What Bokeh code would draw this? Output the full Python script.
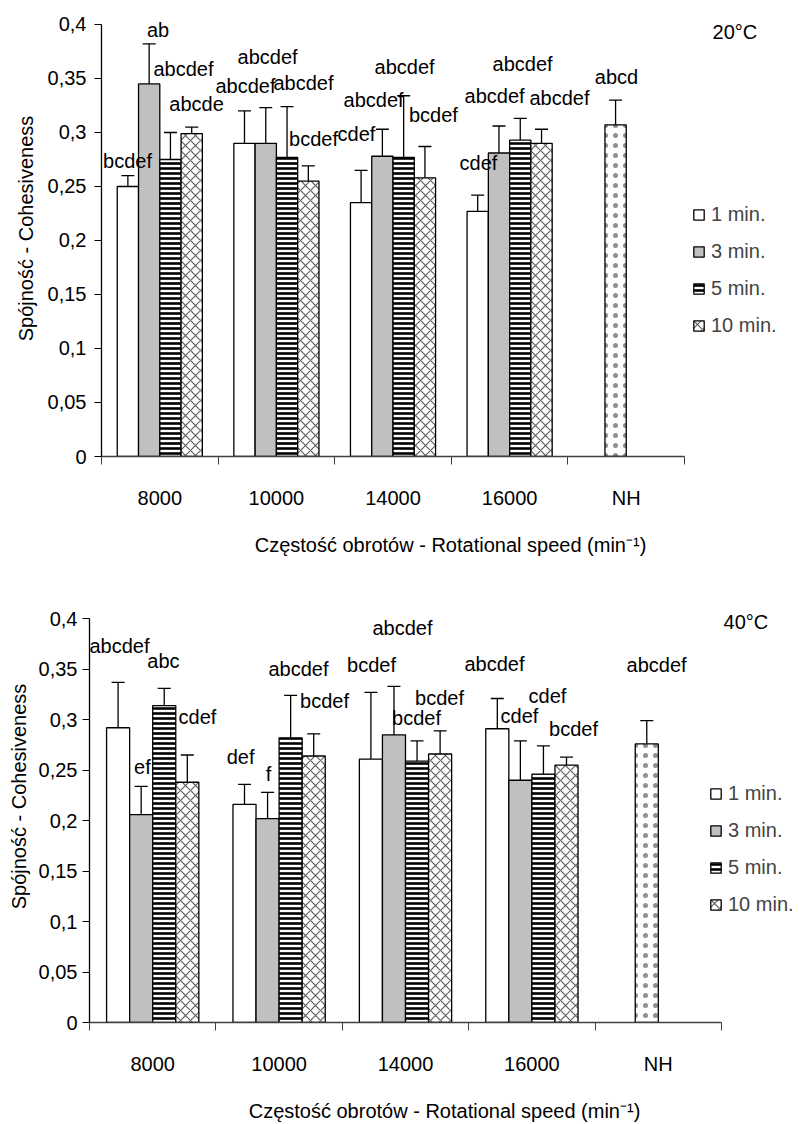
from bokeh.plotting import figure
from bokeh.models import (ColumnDataSource, Whisker, TeeHead, LabelSet, Label, Legend,
                          LegendItem, FixedTicker, CustomJSTickFormatter, Range1d)
from bokeh.core.properties import value
from bokeh.embed import file_html
from bokeh.resources import INLINE

# ---------------- data ----------------
categories = ["8000", "10000", "14000", "16000", "NH"]
series = ["1 min.", "3 min.", "5 min.", "10 min."]

# 20 C
t20_1min = [0.250, 0.290, 0.235, 0.227]
t20_3min = [0.345, 0.290, 0.278, 0.281]
t20_5min = [0.275, 0.277, 0.277, 0.293]
t20_10min = [0.299, 0.255, 0.258, 0.290]
t20_nh = 0.307
t20_1min_err = [0.010, 0.030, 0.030, 0.015]
t20_3min_err = [0.037, 0.033, 0.025, 0.025]
t20_5min_err = [0.025, 0.047, 0.057, 0.020]
t20_10min_err = [0.006, 0.014, 0.029, 0.013]
t20_nh_err = 0.023
t20_letters_1 = ["bcdef", "abcdef", "cdef", "cdef"]
t20_letters_3 = ["ab", "abcdef", "abcdef", "abcdef"]
t20_letters_5 = ["abcdef", "abcdef", "abcdef", "abcdef"]
t20_letters_10 = ["abcde", "bcdef", "bcdef", "abcdef"]
t20_nh_letters = "abcd"

# 40 C
t40_1min = [0.292, 0.216, 0.261, 0.291]
t40_3min = [0.206, 0.202, 0.285, 0.240]
t40_5min = [0.314, 0.282, 0.259, 0.246]
t40_10min = [0.238, 0.264, 0.266, 0.255]
t40_nh = 0.276
t40_1min_err = [0.045, 0.020, 0.066, 0.030]
t40_3min_err = [0.028, 0.026, 0.048, 0.039]
t40_5min_err = [0.017, 0.042, 0.020, 0.028]
t40_10min_err = [0.027, 0.022, 0.023, 0.008]
t40_nh_err = 0.023
t40_letters_1 = ["abcdef", "def", "bcdef", "abcdef"]
t40_letters_3 = ["ef", "f", "abcdef", "cdef"]
t40_letters_5 = ["abc", "abcdef", "bcdef", "cdef"]
t40_letters_10 = ["cdef", "bcdef", "bcdef", "bcdef"]
t40_nh_letters = "abcdef"

y_ticks = [0, 0.05, 0.1, 0.15, 0.2, 0.25, 0.3, 0.35, 0.4]

# ---------------- annotation positions (data units) ----------------
t20_label_x = [[0.723, 1.735, 2.687, 3.733], [0.985, 1.924, 2.833, 3.871],
               [1.203, 2.232, 3.099, 4.111], [1.315, 2.318, 3.347, 4.428]]
t20_label_y = [[0.274, 0.343, 0.299, 0.272], [0.395, 0.370, 0.330, 0.334],
               [0.359, 0.346, 0.361, 0.363], [0.326, 0.294, 0.316, 0.332]]
t20_nh_label = (4.917, 0.351)
t40_label_x = [[0.737, 1.695, 2.731, 3.704], [0.919, 1.916, 2.976, 3.902],
               [1.085, 2.153, 3.087, 4.123], [1.354, 2.359, 3.269, 4.329]]
t40_label_y = [[0.373, 0.263, 0.354, 0.355], [0.253, 0.246, 0.391, 0.304],
               [0.358, 0.350, 0.302, 0.323], [0.303, 0.319, 0.321, 0.291]]
t40_nh_label = (4.986, 0.354)

FONT = "Liberation Sans"
FS = "20px"
BAR_W = 0.1825
OFFSETS = [-1.5, -0.5, 0.5, 1.5]
STYLES = [
    dict(fill_color="white"),
    dict(fill_color="#c0c0c0"),
    dict(fill_color="white", hatch_pattern="horizontal_line", hatch_color="black",
         hatch_scale=5, hatch_weight=2.6),
    dict(fill_color="white", hatch_pattern="diagonal_cross", hatch_color="#606060",
         hatch_scale=10, hatch_weight=1.2),
]
NH_STYLE = dict(fill_color="white", hatch_pattern="dot", hatch_color="#909090",
                hatch_scale=10, hatch_weight=0.6)


def make_panel(values, errors, nh_val, nh_err, letters, nh_letters, lab_x, lab_y, nh_lab,
               title, title_xy, legend_xy, height, borders, x_max, y_max,
               ylab_standoff, ytick_standoff, xlab_standoff):
    left, bottom = borders
    p = figure(width=799, height=height, x_range=Range1d(0.5, x_max),
               y_range=Range1d(0, y_max),
               output_backend="svg", toolbar_location=None,
               min_border_left=left, min_border_right=0,
               min_border_top=0, min_border_bottom=bottom)
    p.grid.visible = False
    p.outline_line_color = None
    p.background_fill_color = "white"

    renderers = []
    for i, (vals, errs) in enumerate(zip(values, errors)):
        xs = [k + 1 + OFFSETS[i] * BAR_W for k in range(len(vals))]
        src = ColumnDataSource(dict(x=xs, top=vals,
                                    upper=[v + e for v, e in zip(vals, errs)],
                                    lower=[v - e for v, e in zip(vals, errs)]))
        r = p.vbar(x="x", top="top", bottom=0, width=BAR_W, source=src,
                   line_color="black", line_width=1.3, **STYLES[i])
        renderers.append(r)
        p.add_layout(Whisker(source=src, base="x", upper="upper", lower="lower",
                             line_color="black", line_width=1.3,
                             upper_head=TeeHead(size=13, line_width=1.3, line_color="black"),
                             lower_head=TeeHead(size=13, line_width=1.3, line_color="black")))
        lsrc = ColumnDataSource(dict(x=lab_x[i], y=lab_y[i], t=letters[i]))
        p.add_layout(LabelSet(x="x", y="y", text="t", source=lsrc, text_align="center",
                              text_baseline="middle", text_font=value(FONT),
                              text_font_size=value(FS), text_color="black"))

    # NH bar (placed in 2nd series slot)
    nx = [5 + OFFSETS[1] * BAR_W]
    nsrc = ColumnDataSource(dict(x=nx, top=[nh_val], upper=[nh_val + nh_err],
                                 lower=[nh_val - nh_err]))
    p.vbar(x="x", top="top", bottom=0, width=BAR_W, source=nsrc,
           line_color="black", line_width=1.3, **NH_STYLE)
    p.add_layout(Whisker(source=nsrc, base="x", upper="upper", lower="lower",
                         line_color="black", line_width=1.3,
                         upper_head=TeeHead(size=13, line_width=1.3, line_color="black"),
                         lower_head=TeeHead(size=13, line_width=1.3, line_color="black")))
    p.add_layout(Label(x=nh_lab[0], y=nh_lab[1], text=nh_letters, text_align="center",
                       text_baseline="middle", text_font=FONT, text_font_size=FS,
                       text_color="black"))

    # title
    p.add_layout(Label(x=title_xy[0], y=title_xy[1], text=title, text_align="left",
                       text_baseline="middle", text_font=FONT, text_font_size=FS,
                       text_color="black"))

    # axes
    xa = p.xaxis[0]
    xa.bounds = (0.5, 5.5)
    xa.ticker = FixedTicker(ticks=[1, 2, 3, 4, 5], minor_ticks=[0.5, 1.5, 2.5, 3.5, 4.5, 5.5])
    xa.major_label_overrides = {k + 1: c for k, c in enumerate(categories)}
    xa.major_tick_out = 0
    xa.major_tick_in = 0
    xa.minor_tick_out = 8
    xa.minor_tick_in = 0
    xa.minor_tick_line_color = "#404040"
    xa.axis_line_color = "#404040"
    xa.axis_line_width = 1.3
    xa.major_label_standoff = 22
    xa.major_label_text_font = FONT
    xa.major_label_text_font_size = FS
    xa.major_label_text_color = "black"
    xa.axis_label = "Częstość obrotów - Rotational speed (min⁻¹)"
    xa.axis_label_text_font = FONT
    xa.axis_label_text_font_size = FS
    xa.axis_label_text_font_style = "normal"
    xa.axis_label_text_color = "black"
    xa.axis_label_standoff = xlab_standoff

    ya = p.yaxis[0]
    ya.bounds = (0, 0.4)
    ya.ticker = FixedTicker(ticks=y_ticks, minor_ticks=[])
    ya.formatter = CustomJSTickFormatter(
        code="var s = tick.toFixed(2).replace(/0+$/, '').replace(/\\.$/, ''); return s.replace('.', ',');")
    ya.major_tick_out = 7
    ya.major_tick_in = 0
    ya.minor_tick_out = 0
    ya.minor_tick_in = 0
    ya.axis_line_color = "black"
    ya.axis_line_width = 1.3
    ya.major_tick_line_color = "black"
    ya.major_label_standoff = ytick_standoff
    ya.major_label_text_font = FONT
    ya.major_label_text_font_size = FS
    ya.major_label_text_color = "black"
    ya.axis_label = "Spójność - Cohesiveness"
    ya.axis_label_text_font = FONT
    ya.axis_label_text_font_size = FS
    ya.axis_label_text_font_style = "normal"
    ya.axis_label_text_color = "black"
    ya.axis_label_standoff = ylab_standoff

    legend = Legend(items=[LegendItem(label=s, renderers=[r]) for s, r in zip(series, renderers)],
                    location=legend_xy, orientation="vertical",
                    label_text_font=FONT, label_text_font_size=FS,
                    glyph_width=13, glyph_height=13, label_standoff=6, spacing=14,
                    padding=0, margin=0, border_line_color=None, background_fill_alpha=0)
    p.add_layout(legend)
    return p


p20 = make_panel([t20_1min, t20_3min, t20_5min, t20_10min],
                 [t20_1min_err, t20_3min_err, t20_5min_err, t20_10min_err],
                 t20_nh, t20_nh_err,
                 [t20_letters_1, t20_letters_3, t20_letters_5, t20_letters_10], t20_nh_letters,
                 t20_label_x, t20_label_y, t20_nh_label,
                 "20°C", (5.74, 0.393), (591, 119),
                 570, (101, 114), 6.486, 0.4222, 8, 8, 22)

p40 = make_panel([t40_1min, t40_3min, t40_5min, t40_10min],
                 [t40_1min_err, t40_3min_err, t40_5min_err, t40_10min_err],
                 t40_nh, t40_nh_err,
                 [t40_letters_1, t40_letters_3, t40_letters_5, t40_letters_10], t40_nh_letters,
                 t40_label_x, t40_label_y, t40_nh_label,
                 "40°C", (5.516, 0.3965), (620, 106),
                 554, (89, 91), 6.117, 0.4478, 6, 5, 22)

# two independent roots so that the plot frames are not aligned to each other
open("out.html", "w").write(file_html([p20, p40], INLINE))
